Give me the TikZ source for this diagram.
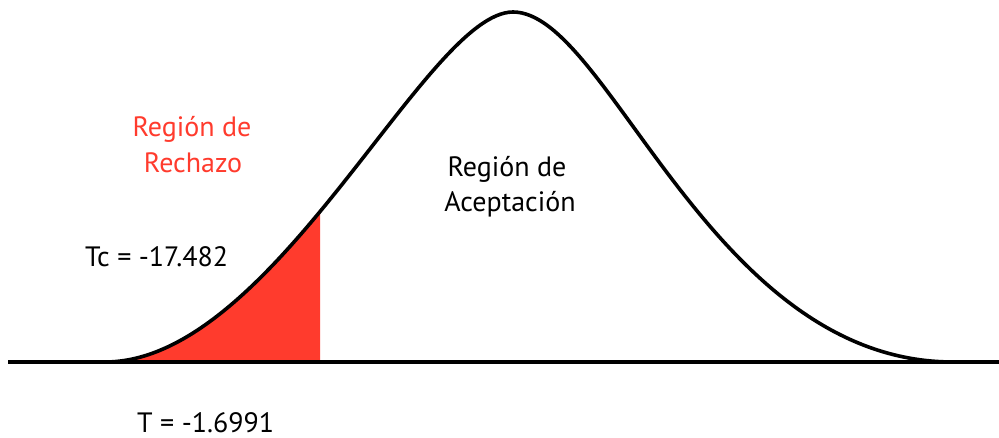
\documentclass[tikz,border=0pt]{standalone}
\usepackage{fontspec}
\setmainfont{PT Sans}
\definecolor{rejred}{RGB}{255,59,45}
\begin{document}
\begin{tikzpicture}[x=1pt,y=-1pt,
  lbl/.style={anchor=base,inner sep=0pt,font=\fontsize{28}{34}\selectfont},
  lblw/.style={anchor=base west,inner sep=0pt,font=\fontsize{28}{34}\selectfont},
  curve/.style={line width=3.6pt,line join=round}]
\useasboundingbox (0,0) rectangle (999,438);
\def\bellpath{(105,362) .. controls (274.4,362) and (426.3,12) .. (513,12) .. controls (608.6,12) and (710.7,362) .. (953,362)}
\begin{scope}
  \clip (0,0) rectangle (320,362);
  \fill[rejred] \bellpath -- cycle;
\end{scope}
\draw[curve] (8,362) -- (999,362);
\draw[curve] \bellpath;
\node[lbl,text=rejred] (r1) at (192,137) {Región de};
\node[lbl,text=rejred] (r2) at (193,173) {Rechazo};
\node[lbl] (a1) at (507,177) {Región de};
\node[lbl] (a2) at (510,212) {Aceptación};
\node[lblw] (tc) at (85,267) {Tc = -17.482};
\node[lblw] (t) at (137,432) {T = -1.6991};
\end{tikzpicture}
\end{document}
